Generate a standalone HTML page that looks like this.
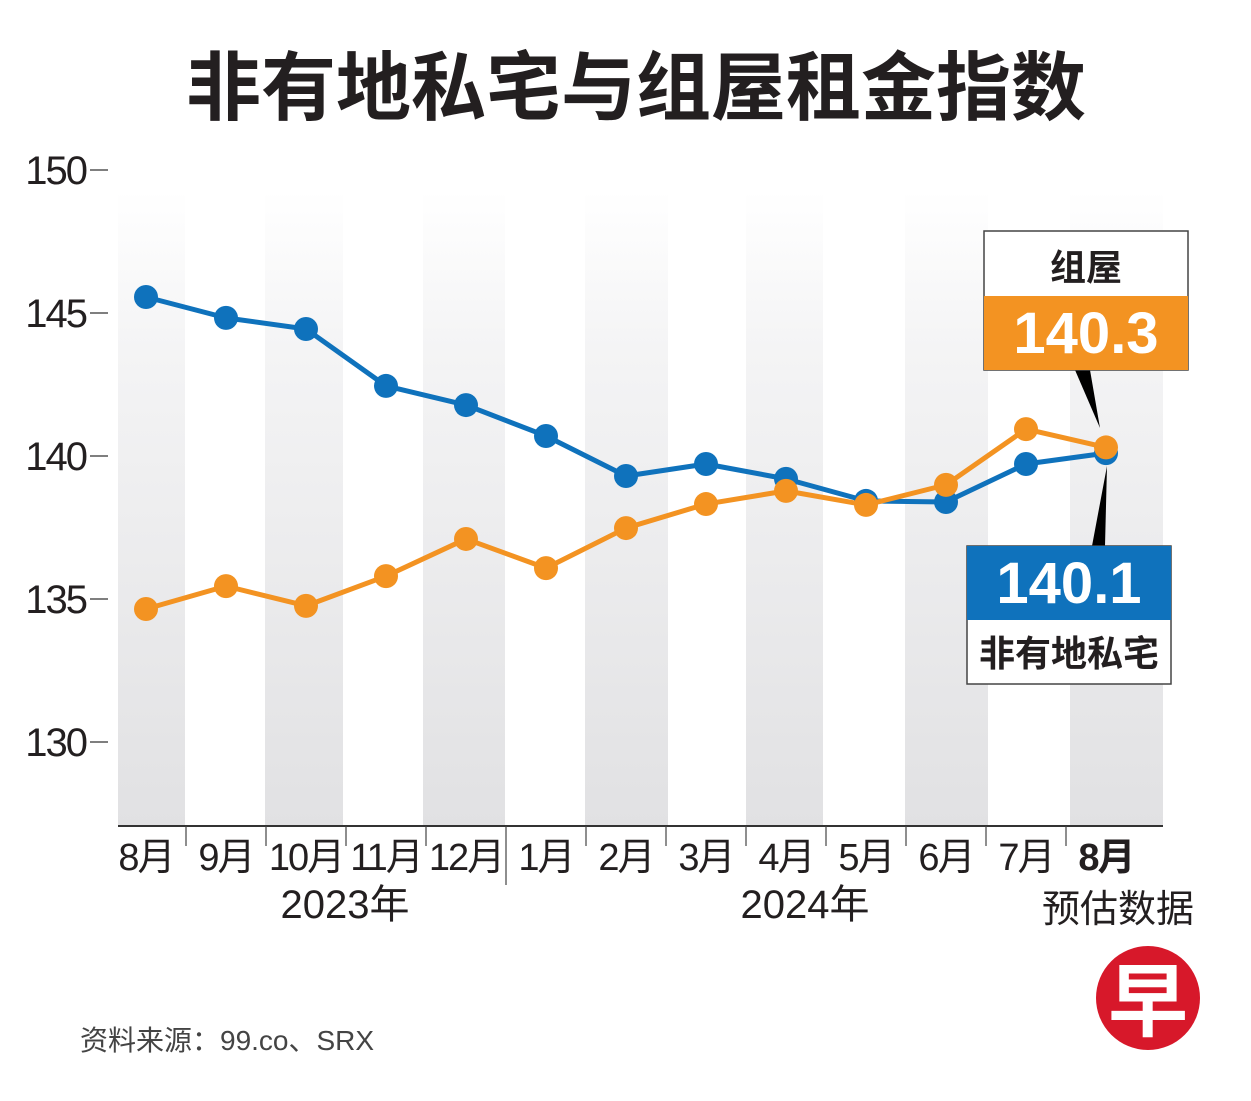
<!DOCTYPE html>
<html><head><meta charset="utf-8"><style>
html,body{margin:0;padding:0;background:#fff;}
svg{display:block;font-family:"Liberation Sans","Noto Sans CJK SC",sans-serif;}
</style></head><body>
<svg id="chart" width="1251" height="1101" viewBox="0 0 1251 1101" xmlns="http://www.w3.org/2000/svg">
<defs>
<linearGradient id="colg" x1="0" y1="0" x2="0" y2="1">
<stop offset="0" stop-color="#ffffff"/><stop offset="0.25" stop-color="#f4f4f5"/><stop offset="1" stop-color="#e1e1e3"/>
</linearGradient>
</defs>
<text x="636" y="114" text-anchor="middle" font-size="75" font-weight="bold" fill="#231f20" font-family="Noto Sans CJK SC, sans-serif">非有地私宅与组屋租金指数</text>
<g id="stripes"></g>
<g id="yaxis"></g>
<line x1="118" y1="826" x2="1163" y2="826" stroke="#333" stroke-width="2"/>
<g id="xaxis"></g>
<g id="series"></g>
<text x="345" y="918" text-anchor="middle" font-size="40" fill="#231f20">2023年</text>
<text x="805" y="918" text-anchor="middle" font-size="40" fill="#231f20">2024年</text>
<text x="1118" y="922" text-anchor="middle" font-size="38" fill="#231f20">预估数据</text>
<polygon points="1075,370 1090,370 1100,428" fill="#000"/>
<polygon points="1092,546 1105,546 1107,466" fill="#000"/>
<g>
<rect x="984" y="231" width="204" height="139" fill="#fff" stroke="#444" stroke-width="1.5"/>
<rect x="984" y="296" width="204" height="74" fill="#f39322"/>
<text x="1086" y="280" text-anchor="middle" font-size="36" font-weight="bold" fill="#231f20">组屋</text>
<text x="1086" y="353" text-anchor="middle" font-size="58" font-weight="bold" fill="#fff">140.3</text>
</g>
<g>
<rect x="967" y="546" width="204" height="138" fill="#fff" stroke="#444" stroke-width="1.5"/>
<rect x="967" y="546" width="204" height="74" fill="#0f72bc"/>
<text x="1069" y="603" text-anchor="middle" font-size="58" font-weight="bold" fill="#fff">140.1</text>
<text x="1069" y="666" text-anchor="middle" font-size="36" font-weight="bold" fill="#231f20">非有地私宅</text>
</g>
<text x="80" y="1050" font-size="28" fill="#444">资料来源：99.co、SRX</text>
<g>
<circle cx="1148" cy="998" r="52" fill="#d7182a"/>
<text x="1148" y="1030" text-anchor="middle" font-size="80" font-weight="bold" fill="#fff" font-family="Noto Sans CJK SC, sans-serif">早</text>
</g>
</svg>
<script>
const months=["8月","9月","10月","11月","12月","1月","2月","3月","4月","5月","6月","7月","8月"];
const privateValues=[145.56,144.83,144.44,142.45,141.78,140.70,139.30,139.72,139.20,138.43,138.39,139.72,140.1];
const hdbValues=[134.65,135.45,134.76,135.80,137.10,136.08,137.48,138.32,138.78,138.29,138.99,140.94,140.3];
const yTicks=[150,145,140,135,130];
const NS="http://www.w3.org/2000/svg";
const x=i=>146+i*80;
const y=v=>170+(150-v)*28.6;
function mk(tag,attrs,parent){const e=document.createElementNS(NS,tag);for(const k in attrs)e.setAttribute(k,attrs[k]);parent.appendChild(e);return e;}
const stripes=document.getElementById('stripes');
const bounds=[118,185,265,343,423,505,585,668,746,823,905,988,1070,1163];
for(let i=0;i<bounds.length-1;i+=2){
  const r=mk('rect',{x:bounds[i],y:190,width:bounds[i+1]-bounds[i],height:636,fill:'url(#colg)'},stripes);
  
  
}
const ya=document.getElementById('yaxis');
yTicks.forEach(t=>{
  const l=mk('line',{x1:90,x2:108,y1:y(t),y2:y(t),stroke:'#555','stroke-width':1.5},ya);
  
  
  const tx=mk('text',{x:86,y:y(t)+14,'text-anchor':'end','font-size':40,fill:'#231f20','letter-spacing':'-2'},ya);
  tx.textContent=t;
  
  
});
const xa=document.getElementById('xaxis');
months.forEach((m,i)=>{
  const tx=mk('text',{x:x(i),y:870,'text-anchor':'middle','font-size':38,fill:'#231f20','letter-spacing':'-2','font-weight':i===12?'bold':'normal'},xa);
  tx.textContent=m;
  
  
  if(i>0){
    const bx=(x(i-1)+x(i))/2;
    const l=mk('line',{x1:bx,x2:bx,y1:826,y2:i===5?885:846,stroke:'#444','stroke-width':1.2},xa);
    
    
  }
});
const sg=document.getElementById('series');
function drawSeries(vals,color,name){
  const p=mk('polyline',{points:vals.map((v,i)=>x(i)+','+y(v)).join(' '),fill:'none',stroke:color,'stroke-width':5,'stroke-linejoin':'round'},sg);
  
  
  vals.forEach((v,i)=>{
    const c=mk('circle',{cx:x(i),cy:y(v),r:12,fill:color},sg);
    
    
  });
}
drawSeries(privateValues,'#0f72bc','private');
drawSeries(hdbValues,'#f39322','hdb');
</script>
</body></html>
